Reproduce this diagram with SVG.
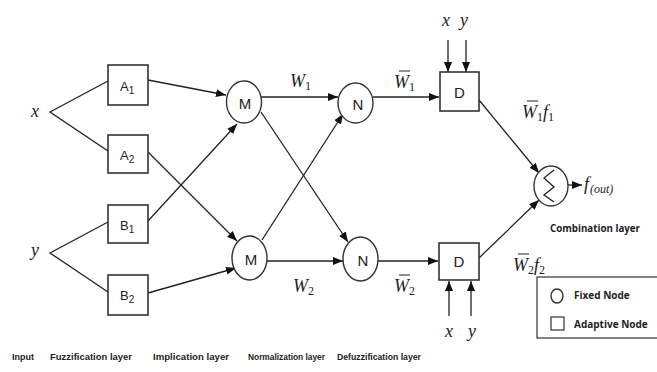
<svg xmlns="http://www.w3.org/2000/svg" width="657" height="372" viewBox="0 0 657 372">
<style>
.box{fill:#fff;stroke:#333;stroke-width:1.6}
.circ{fill:#fff;stroke:#333;stroke-width:1.4}
.ln{fill:none;stroke:#222;stroke-width:1.3}
.arr{fill:none;stroke:#222;stroke-width:1.3;marker-end:url(#ah)}
.nl{font-family:"Liberation Sans","DejaVu Sans",sans-serif;font-size:13px;fill:#222}
.cl{font-family:"Liberation Sans","DejaVu Sans",sans-serif;font-size:15px;fill:#222}
.sub{font-size:10px}
.math{font-family:"Liberation Serif","DejaVu Serif",serif;font-style:italic;font-size:18px;fill:#222}
.msub{font-style:normal;font-size:12px}
.isub{font-size:12px}
.lay{font-family:"Open Sans","Liberation Sans",sans-serif;font-weight:bold;font-size:10px;fill:#222}
.lay2{font-family:"Liberation Sans",sans-serif;font-weight:bold;font-size:9px;fill:#222}
.bar{stroke:#222;stroke-width:1}
</style>
<defs>
<marker id="ah" markerUnits="userSpaceOnUse" markerWidth="12" markerHeight="10" refX="10" refY="4" orient="auto">
<path d="M0,0 L10,4 L0,8 z" fill="#111"/>
</marker>
</defs>
<rect width="657" height="372" fill="#fff"/>

<g id="connectors">
<polyline class="ln" points="108,81 50,112 108,151"/>
<polyline class="ln" points="108,222 50,253 108,292"/>
<line class="arr" x1="148" y1="80" x2="226" y2="95"/>
<line class="arr" x1="148" y1="221" x2="237" y2="124"/>
<line class="arr" x1="148" y1="152" x2="237" y2="241"/>
<line class="arr" x1="148" y1="293" x2="236" y2="268"/>
<line class="arr" x1="261" y1="97" x2="338" y2="97"/>
<line class="arr" x1="261" y1="112" x2="348" y2="242"/>
<line class="arr" x1="262" y1="240" x2="343" y2="114"/>
<line class="arr" x1="267" y1="261" x2="343" y2="261"/>
<line class="arr" x1="373" y1="97" x2="439" y2="97"/>
<line class="arr" x1="378" y1="261" x2="438" y2="261"/>
<line class="arr" x1="448" y1="40" x2="448" y2="72"/>
<line class="arr" x1="466" y1="40" x2="466" y2="72"/>
<line class="arr" x1="449" y1="316" x2="449" y2="281"/>
<line class="arr" x1="471" y1="316" x2="471" y2="281"/>
<line class="arr" x1="479" y1="100" x2="539" y2="173"/>
<line class="arr" x1="479" y1="258" x2="539" y2="200"/>
<line class="arr" x1="568" y1="185" x2="582" y2="185"/>
</g>

<g id="input-x"><text class="math" x="35" y="117" text-anchor="middle">x</text></g>
<g id="input-y"><text class="math" x="35" y="256" text-anchor="middle">y</text></g>

<g id="A1"><rect class="box" x="108" y="65" width="40" height="40"/><text class="nl" x="120" y="91">A<tspan class="sub" dy="3">1</tspan></text></g>
<g id="A2"><rect class="box" x="108" y="135" width="40" height="38"/><text class="nl" x="120" y="160">A<tspan class="sub" dy="3">2</tspan></text></g>
<g id="B1"><rect class="box" x="108" y="205" width="40" height="38"/><text class="nl" x="120" y="230">B<tspan class="sub" dy="3">1</tspan></text></g>
<g id="B2"><rect class="box" x="108" y="275" width="40" height="40"/><text class="nl" x="120" y="300">B<tspan class="sub" dy="3">2</tspan></text></g>

<g id="M1"><ellipse class="circ" cx="244" cy="102" rx="17.5" ry="21"/><text class="cl" x="245" y="109" text-anchor="middle">M</text></g>
<g id="M2"><ellipse class="circ" cx="249.5" cy="258" rx="17.5" ry="22"/><text class="cl" x="251" y="265" text-anchor="middle">M</text></g>
<g id="N1"><ellipse class="circ" cx="355.5" cy="103" rx="17.5" ry="20"/><text class="cl" x="358" y="110" text-anchor="middle">N</text></g>
<g id="N2"><ellipse class="circ" cx="360.5" cy="259" rx="17.5" ry="22"/><text class="cl" x="363" y="266" text-anchor="middle">N</text></g>

<g id="D1"><rect class="box" x="440" y="72" width="39" height="39"/><text class="cl" x="459.5" y="98" text-anchor="middle">D</text>
<text class="math" x="446" y="26" text-anchor="middle">x</text><text class="math" x="464" y="26" text-anchor="middle">y</text></g>
<g id="D2"><rect class="box" x="439" y="243" width="40" height="37"/><text class="cl" x="459" y="267" text-anchor="middle">D</text>
<text class="math" x="449" y="337" text-anchor="middle">x</text><text class="math" x="472" y="337" text-anchor="middle">y</text></g>

<g id="sigma"><ellipse class="circ" cx="551" cy="186" rx="17" ry="20"/>
<polyline class="ln" points="554,170 544,178 554,187 544,195 554,202"/></g>

<g id="weights">
<text class="math" x="290" y="87">W<tspan class="msub" dy="3">1</tspan></text>
<text class="math" x="293" y="292">W<tspan class="msub" dy="3">2</tspan></text>
<text class="math" x="394" y="88">W<tspan class="msub" dy="3">1</tspan></text>
<line class="bar" x1="399" y1="71" x2="410" y2="71"/>
<text class="math" x="394" y="292">W<tspan class="msub" dy="3">2</tspan></text>
<line class="bar" x1="399" y1="275" x2="410" y2="275"/>
<text class="math" x="522" y="118">W<tspan class="msub" dy="3">1</tspan><tspan dy="-3">f</tspan><tspan class="msub" dy="3">1</tspan></text>
<line class="bar" x1="527" y1="101" x2="538" y2="101"/>
<text class="math" x="513" y="271">W<tspan class="msub" dy="3">2</tspan><tspan dy="-3">f</tspan><tspan class="msub" dy="3">2</tspan></text>
<line class="bar" x1="518" y1="254" x2="529" y2="254"/>
<text class="math" x="584" y="190">f<tspan class="isub" dy="3" dx="1">(out)</tspan></text>
</g>

<g id="legend">
<rect x="537" y="277" width="125" height="61" fill="#fff" stroke="#333" stroke-width="1.2"/>
<ellipse class="circ" cx="557" cy="296" rx="6" ry="7"/>
<rect x="551" y="317" width="13" height="13" fill="#fff" stroke="#333" stroke-width="1.2"/>
<text class="lay" x="574" y="299">Fixed Node</text>
<text class="lay" x="574" y="328">Adaptive Node</text>
</g>

<g id="layers">
<text class="lay2" x="12" y="360" textLength="22" lengthAdjust="spacingAndGlyphs">Input</text>
<text class="lay2" x="50" y="360" textLength="82" lengthAdjust="spacingAndGlyphs">Fuzzification layer</text>
<text class="lay2" x="153" y="360" textLength="76" lengthAdjust="spacingAndGlyphs">Implication layer</text>
<text class="lay2" x="248" y="360" textLength="77" lengthAdjust="spacingAndGlyphs">Normalization layer</text>
<text class="lay2" x="337" y="360" textLength="84" lengthAdjust="spacingAndGlyphs">Defuzzification layer</text>
<text class="lay" x="550" y="232" textLength="90" lengthAdjust="spacingAndGlyphs">Combination layer</text>
</g>
</svg>
